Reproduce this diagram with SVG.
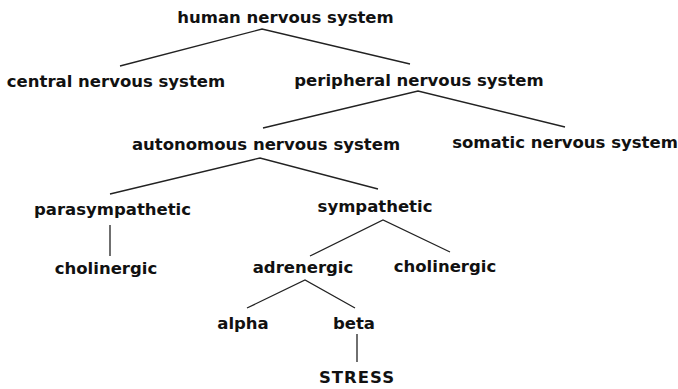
<svg xmlns="http://www.w3.org/2000/svg" width="678" height="389" viewBox="0 0 678 389">
<style>
text{font-family:"DejaVu Sans","Verdana",sans-serif;font-weight:bold;font-size:16.5px;fill:#111;text-anchor:middle}
.c line,.c polyline{stroke:#222;stroke-width:1.3;fill:none}
</style>
<rect width="678" height="389" fill="#fff"/>
<g class="c" id="connectors">
<polyline points="120,66 262,29 410,64"/>
<polyline points="263,128 418,91 565,127"/>
<polyline points="110,194 260,158 378,189"/>
<line x1="110" y1="225" x2="110" y2="256"/>
<polyline points="310,256 383,220 450,252"/>
<polyline points="247,308 305,280 355,308"/>
<line x1="357" y1="334" x2="357" y2="362"/>
</g>
<g id="n-human"><text x="285.5" y="23">human nervous system</text></g>
<g id="n-central"><text x="116" y="87">central nervous system</text></g>
<g id="n-peripheral"><text x="419" y="86">peripheral nervous system</text></g>
<g id="n-autonomous"><text x="266" y="150">autonomous nervous system</text></g>
<g id="n-somatic"><text x="565" y="148">somatic nervous system</text></g>
<g id="n-parasympathetic"><text x="112.5" y="215">parasympathetic</text></g>
<g id="n-sympathetic"><text x="375" y="212">sympathetic</text></g>
<g id="n-cholinergic1"><text x="106" y="274">cholinergic</text></g>
<g id="n-adrenergic"><text x="303" y="273">adrenergic</text></g>
<g id="n-cholinergic2"><text x="445" y="272">cholinergic</text></g>
<g id="n-alpha"><text x="243" y="329">alpha</text></g>
<g id="n-beta"><text x="354" y="329">beta</text></g>
<g id="n-stress"><text x="357" y="383" style="letter-spacing:1px">STRESS</text></g>
</svg>
